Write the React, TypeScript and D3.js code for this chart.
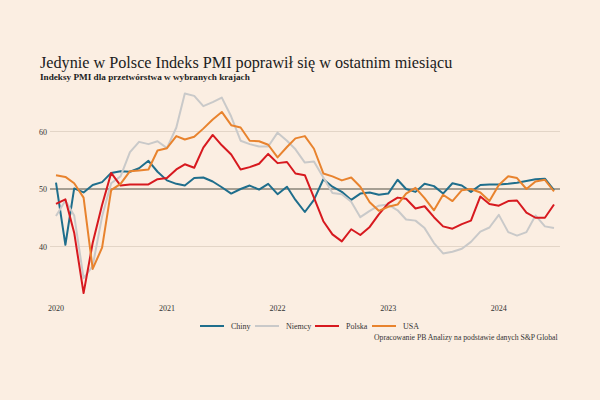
import React from "react";
import * as d3 from "d3";

const startMonth = new Date(2020, 0, 1);
const yearTicks = ["2020", "2021", "2022", "2023", "2024"];
const yTicks = [40, 50, 60];

const chiny = [51.1, 40.3, 50.1, 49.4, 50.7, 51.2, 52.8, 53.1, 53.0, 53.6, 54.9, 53.0,
  51.5, 50.9, 50.6, 51.9, 52.0, 51.3, 50.3, 49.2, 50.0, 50.6, 49.9, 50.9,
  49.1, 50.4, 48.1, 46.0, 48.1, 51.7, 50.4, 49.5, 48.1, 49.2, 49.4, 49.0,
  49.2, 51.6, 50.0, 49.5, 50.9, 50.5, 49.2, 51.0, 50.6, 49.5, 50.7, 50.8,
  50.8, 50.9, 51.1, 51.4, 51.7, 51.8, 49.8];
const niemcy = [45.3, 48.0, 45.4, 34.5, 36.6, 45.2, 51.0, 52.2, 56.4, 58.2, 57.8, 58.3,
  57.1, 60.7, 66.6, 66.2, 64.4, 65.1, 65.9, 62.6, 58.4, 57.8, 57.4, 57.4,
  59.8, 58.4, 56.9, 54.6, 54.8, 52.0, 49.3, 49.1, 47.8, 45.1, 46.2, 47.1,
  47.3, 46.3, 44.7, 44.5, 43.2, 40.6, 38.8, 39.1, 39.6, 40.8, 42.6, 43.3,
  45.5, 42.5, 41.9, 42.5, 45.4, 43.5, 43.2];
const polska = [47.4, 48.2, 42.4, 31.9, 40.6, 47.2, 52.8, 50.6, 50.8, 50.8, 50.8, 51.7,
  51.9, 53.4, 54.3, 53.7, 57.2, 59.4, 57.6, 56.0, 53.4, 53.8, 54.4, 56.1,
  54.5, 54.7, 52.7, 52.4, 48.5, 44.4, 42.1, 40.9, 43.0, 42.0, 43.4, 45.6,
  47.5, 48.5, 48.3, 46.6, 47.0, 45.1, 43.5, 43.1, 43.9, 44.5, 48.7, 47.4,
  47.1, 47.9, 48.0, 45.9, 45.0, 45.0, 47.3];
const usa = [52.4, 52.1, 51.0, 48.5, 36.1, 39.8, 49.8, 50.9, 53.1, 53.2, 53.4, 56.7,
  57.1, 59.2, 58.6, 59.1, 60.5, 62.1, 63.4, 61.1, 60.7, 58.4, 58.3, 57.7,
  55.5, 57.3, 58.8, 59.2, 57.0, 52.7, 52.2, 51.5, 52.0, 50.4, 47.7, 46.2,
  46.9, 47.3, 49.2, 50.2, 48.4, 46.3, 49.0, 47.9, 49.8, 50.0, 49.4, 47.9,
  50.7, 52.2, 51.9, 50.0, 51.3, 51.6, 49.6];

const seriesNames = ["Chiny", "Niemcy", "Polska", "USA"];
const seriesColors = ["#1f6e8c", "#c9c9c9", "#d7191f", "#e8832e"];
const seriesData = [chiny, niemcy, polska, usa];

const title = "Jedynie w Polsce Indeks PMI poprawił się w ostatnim miesiącu";
const subtitle = "Indeksy PMI dla przetwórstwa w wybranych krajach";
const source = "Opracowanie PB Analizy na podstawie danych S&P Global";

const monthDate = (i: number) => d3.timeMonth.offset(startMonth, i);

export default function App() {
  const x = d3.scaleTime().domain([startMonth, monthDate(54)]).range([56, 554]);
  const y = d3.scaleLinear().domain([30, 70]).range([304, 74]);
  const line = d3
    .line<number>()
    .x((_, i) => x(monthDate(i)))
    .y((d) => y(d));
  const font = "'Liberation Serif', 'DejaVu Serif', serif";
  const legendX = [200, 255, 315, 372];

  return (
    <svg
      width={600}
      height={400}
      style={{ position: "absolute", left: 0, top: 0, background: "#fbeee2" }}
      fontFamily={font}
    >
      <rect x={0} y={0} width={600} height={400} fill="#fbeee2" />
      <text x={40} y={68} fontSize={16.2} fill="#1c1c1c">{title}</text>
      <text x={40} y={80} fontSize={9.2} fill="#1c1c1c" fontWeight={600}>{subtitle}</text>

      {yTicks.map((t) => (
        <g key={t}>
          <line
            x1={50}
            x2={560}
            y1={y(t)}
            y2={y(t)}
            stroke={t === 50 ? "#8a8478" : "#e3d5c7"}
            strokeWidth={t === 50 ? 1.5 : 1}
          />
          <text x={47} y={y(t) + 3} fontSize={8} textAnchor="end" fill="#333">
            {t}
          </text>
        </g>
      ))}

      {yearTicks.map((yr) => (
        <text
          key={yr}
          x={x(new Date(+yr, 0, 1))}
          y={311}
          fontSize={8}
          textAnchor="middle"
          fill="#333"
        >
          {yr}
        </text>
      ))}

      {seriesData.map((s, k) => (
        <path
          key={seriesNames[k]}
          d={line(s) || ""}
          fill="none"
          stroke={seriesColors[k]}
          strokeWidth={2}
          strokeLinejoin="round"
        />
      ))}

      {seriesNames.map((n, k) => (
        <g key={n}>
          <line
            x1={legendX[k]}
            x2={legendX[k] + 24}
            y1={326}
            y2={326}
            stroke={seriesColors[k]}
            strokeWidth={2}
          />
          <text x={legendX[k] + 31} y={329} fontSize={8} fill="#333">
            {n}
          </text>
        </g>
      ))}
      <text x={374} y={340} fontSize={7.7} fill="#333">{source}</text>
    </svg>
  );
}
